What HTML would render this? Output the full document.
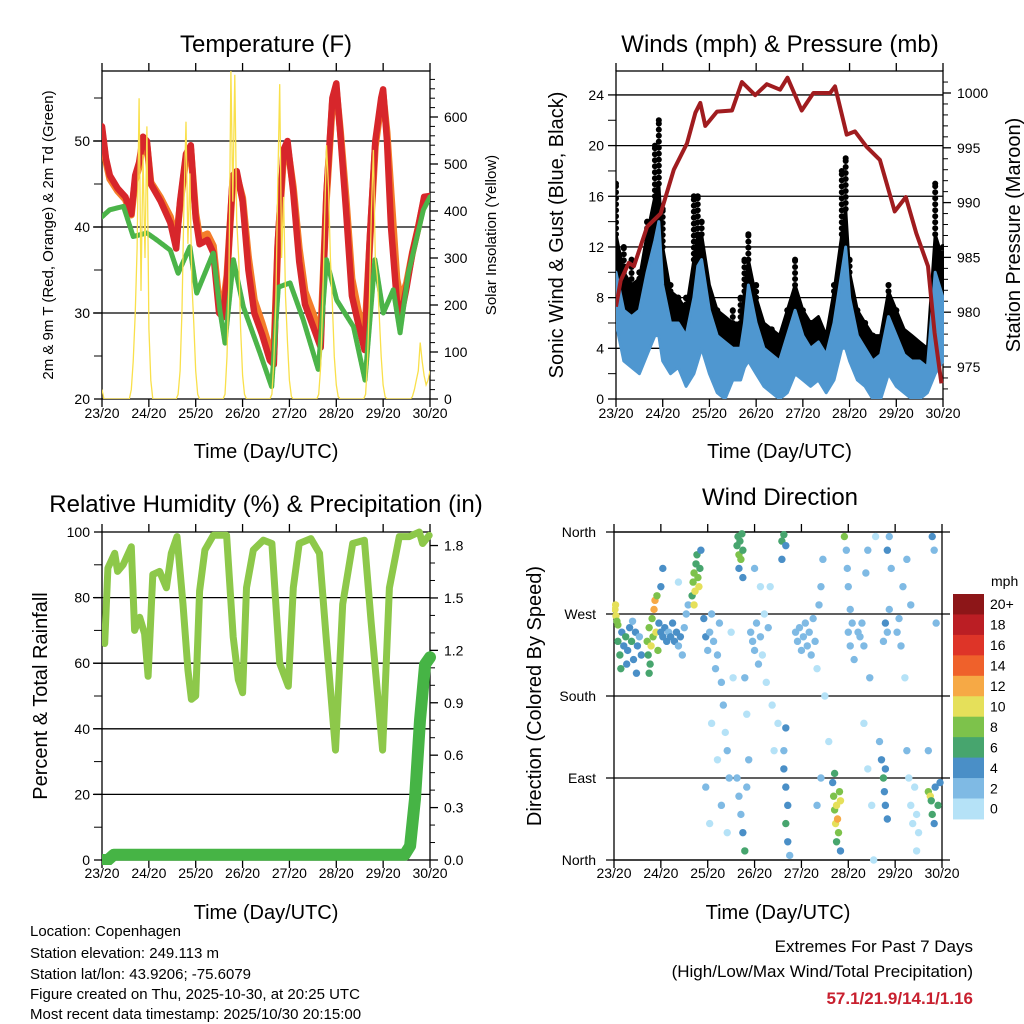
<!DOCTYPE html>
<html><head><meta charset="utf-8"><title>Weather station summary</title>
<style>
html,body{margin:0;padding:0;background:#fff;}
svg{display:block;font-family:"Liberation Sans",Arial,sans-serif;}
</style></head>
<body>
<svg id="chart" width="1024" height="1024" viewBox="0 0 1024 1024">
<defs>
<clipPath id="c1"><rect x="102" y="71" width="328" height="328"/></clipPath>
<clipPath id="c2"><rect x="616" y="71" width="328" height="328"/></clipPath>
<clipPath id="c3"><rect x="102" y="525" width="335" height="340"/></clipPath>
<clipPath id="c4"><rect x="612" y="526" width="336" height="340"/></clipPath>
</defs>
<text x="30" y="936" font-size="15">Location: Copenhagen</text>
<text x="30" y="958" font-size="15">Station elevation: 249.113 m</text>
<text x="30" y="979" font-size="15">Station lat/lon: 43.9206; -75.6079</text>
<text x="30" y="999" font-size="15">Figure created on Thu, 2025-10-30, at 20:25 UTC</text>
<text x="30" y="1019" font-size="15">Most recent data timestamp: 2025/10/30 20:15:00</text>
<text x="973" y="952" font-size="17" text-anchor="end">Extremes For Past 7 Days</text>
<text x="973" y="977" font-size="17" text-anchor="end">(High/Low/Max Wind/Total Precipitation)</text>
<text x="973" y="1004" font-size="17" font-weight="bold" fill="#c8202f" text-anchor="end">57.1/21.9/14.1/1.16</text>
</svg>
<script>
// ---------- data ----------
const dayLabels = ["23/20","24/20","25/20","26/20","27/20","28/20","29/20","30/20"];
const tempT = [0,2,4,8,12,15,17,19,21,23,25,30,35,38,40,43,45.5,48,50,54,57,60,62,64,67,69,72,75,78,82,86,88,90,93,95,98,101,104,108,112,115,118,120,122,125,128,131,134.5,137,140,143,144,146,148,151,153,156,159,162,165,168];
const tempRed = [51.7,48,46,44.5,43.5,41.5,46,47.5,50.5,50,45,43,40.5,37.5,43,48.5,49.5,41,38,38.5,37,30,29.5,34,46,46.5,43,35,30,27.5,24.5,24,38,49,50,44,36,31,28.5,26,44,55,56.7,51,42,32,29,25.7,38,50,55,56,50,40,31.5,29.5,33,37,40,43.5,43.6];
const tempOrange = [51.2,47.6,45.6,44.2,43.2,41.4,45.4,47,50,49.6,45.2,43.4,41.2,38.4,42.6,48,49,41.6,38.8,39.2,37.8,31.2,30.6,34.4,45.4,46,43.4,36.5,31.5,28.8,25.8,25.2,37.5,48.4,49.4,44.6,37.5,32.5,30,27.4,43.4,54.4,56,51.4,43.4,34,30.5,27,37.5,49.4,54.4,55.4,51,44,34,31.5,33.5,37,40,43.2,43.4];
const dewT = [0,4,11,16,23,28,35,39,45,48.5,57,60.4,63,67.3,72.4,81,86.9,90.3,96.3,103.1,110.8,115,120.2,128.8,134.7,139.8,144.1,149.2,152.7,156.9,164.6,168];
const dewG = [41.2,42,42.4,38.9,39.3,38.5,37.3,34.6,37.7,32.3,37,30.3,26.5,36.2,30.7,25.3,21.4,33,33.5,29.2,23.4,36.2,31.5,28.4,22.2,36.2,30,32.7,27.7,34.6,42,43.5];
const solar = [20,0,0,0,0,0,0,0,0,0,0,0,0,0,0,
 20,80,180,320,640,230,520,300,580,150,40,0,
 0,0,0,0,0,0,0,0,0,0,0,0,
 10,60,190,420,590,330,480,250,160,60,10,0,
 0,0,0,0,0,0,0,0,0,0,0,0,
 10,90,250,700,420,690,380,300,150,50,10,0,
 0,0,0,0,0,0,0,0,0,0,0,0,
 10,80,200,450,670,300,430,220,120,40,5,0,
 0,0,0,0,0,0,0,0,0,0,0,0,
 10,70,200,380,540,450,300,200,90,30,5,0,
 0,0,0,0,0,0,0,0,0,0,0,0,
 10,80,220,400,530,300,260,180,90,30,5,0,
 0,0,0,0,0,0,0,0,0,0,0,0,
 5,20,40,60,120,80,50,30,40,60];
const windT = [0,4,8,12,16,20,22,24,28,32,36,40,42,44,48,52,56,60,64,66,68,72,76,80,84,88,92,96,100,104,108,112,116,118,120,124,128,132,136,140,144,148,152,156,160,164,168];
const windHi = [10,7,6.5,7,10,12.5,14,9,6,6,5,8,10.5,11,7,5,4.5,4,4,6,9,6,4,3.5,3,5,7,5,4,4.5,3.5,6,10,12,8,5,4,3,3.5,6.5,5,3.5,3,3,2.5,10,8];
const windLo = [6,3,2.5,2,3.5,5,5,3,2,2.5,1,2,3,4,2,0.5,0,1.5,1.5,2.5,3,2,1,0.5,0,0.5,2,1.5,1,1.5,0.5,1.5,4,4,3,1.5,1,0,0,2,1,0.5,0,0,0.5,2,3];
const gustDense = [13,10,9,9.5,13,16,17,12,8.5,8,7,11,13,13,9,7,6.5,6,6,8.5,11,8,6,5.5,5,7,9,7,6,6.5,5,8.5,13,15,10,7,6,5,5,8.5,7,5.5,5,4.5,4,13,11];
const gust = [17,12,11,10,14,20,22,15,9,8,8,16,16,14,8,7,6,7,8,11,13,9,5,5.5,4,7,11,7,6,5.5,4.5,9,18,19,11,7,6,5,4,9,7,5,4,3.5,3,17,12];
const presT = [0,2.4,6.6,9.2,16,22.9,29.7,36.5,40.8,43.3,45.9,51.9,59.6,64.7,71.5,77.5,84.3,88.1,95.4,101.4,110,112.5,118.5,122.8,128.7,135.6,143.2,148.9,154.3,160.3,163.7,167.2];
const presV = [980.5,982.9,984.5,984.2,987.8,989,993,995.4,998.2,999.1,997,998.3,998.4,1001,999.8,1000.8,1000.3,1001.4,998.4,1000,1000,1000.6,996.2,996.5,995.1,993.9,989.2,990.5,987.2,984.2,978.1,973.5];
const rhT = [0,1.4,3,6.5,8,10.8,15,16.7,19.3,21.8,23.6,26,29.5,33,35.5,38.4,41.5,44,45.8,48,50,52.7,57,63.8,67.2,69.8,72,74,77.5,82.6,87,91,95.4,98,101,107,111.4,114.8,119.6,123.3,128.4,134.4,137.8,143.7,147.2,152.3,157.4,162.5,164.2,167.6];
const rhV = [67,66,89,93.5,88,90,95.5,70,74,69,56,87,88,83,93.5,98.6,78,58,49,50,82,94.5,99,99,68,55,51,83,94.5,97.5,96.5,60,53,83,96.5,98,93.5,68,33.5,78,96.5,97.5,73,33.5,83,98.6,98.6,100,96.5,99];
const precipT = [0,3,6,155,157.8,160.3,162.9,165.5,168];
const precipV = [0,0,0.03,0.03,0.08,0.35,0.8,1.12,1.16];
const dirT = [0.5,1,1.5,0.8,2, 2,3,4,5,6,7,8,9,10,11,12,13,14,3.5,6.5,9.5,11.5,
 17,17.5,18,18.5,19,19.5,20,20.5,21,21.5,22,22.5,18,
 23,24,25,26,27,28,29,30,31,32,33,34,36,37,35,38,24,25,33,
 40,40.5,41,41.5,42,42.5,43,43.5,44,41,44.5,
 46,47,48,49,50,51,52,53,54,55,56,57,58,59,60,50,53,55,58,61,47,49,
 63,63.5,64,64.5,65,65.5,66,64,66, 63,64,65,66,67,68,69,67,68,
 70,71,72,73,74,75,76,77,78,79,80,81,75,72,84,82,
 86,87,88,86,87,88,89,88,89,90,87,88,
 93,94,95,96,97,98,99,100,101,102,103,104,105,106,107,108,110,106,104,
 112,112.5,113,113.5,114,114.5,115,115.5,114,116,113,116,
 118,119,119.5,120,121,120,121,122,123,
 125,126,127,128,129,130,131,130,132,133,134,128,
 136,137,138,138.5,139,140,138,139,140,141,140,141,142,139,
 145,146,147,148,149,150,151,152,153,154,155,156,150,152,155,
 161,162,162.5,163,164,164.5,163,164,161,165,166,167];
const dirD = [275,268,262,280,258, 240,225,250,235,245,230,255,240,220,250,235,245,225,210,215,262,205,
 240,225,255,215,235,265,245,275,285,250,290,230,205,
 260,250,245,255,240,250,245,260,240,250,235,245,255,270,225,280,300,320,305,
 290,305,315,295,325,335,310,300,320,280,340,
 265,245,230,250,270,240,210,225,260,195,170,140,120,90,250,150,110,60,30,200,80,40,
 345,355,335,350,330,358,340,320,310, 90,70,50,30,10,80,110,200,160,
 250,240,230,260,215,245,225,270,195,255,300,170,300,320,150,120,
 350,357,345,330,100,80,60,40,20,5,120,145,
 250,240,255,230,245,260,235,250,225,265,240,210,280,300,330,180,130,90,60,
 85,70,55,40,60,45,30,75,20,10,95,65,
 355,340,320,300,275,250,235,260,220,
 250,245,260,235,315,340,200,100,60,0,355,150,
 130,110,90,75,60,45,240,260,250,275,340,355,320,100,
 250,265,235,300,200,120,90,60,40,80,50,30,330,280,10,
 75,70,65,50,40,80,355,340,120,260,60,85];
const dirS = [10,10,9,11,8, 6,7,5,4,6,5,4,6,5,4,5,3,4,6,5,3,4,
 8,7,9,6,10,9,8,12,13,11,9,8,7,
 5,4,4,5,4,3,4,4,5,4,3,4,3,3,2,3,4,4,1,
 7,8,9,10,7,6,8,10,7,11,5,
 4,4,3,3,2,2,3,2,2,3,2,1,2,2,1,1,1,2,1,1,2,1,
 7,6,8,7,9,6,7,5,4, 2,3,3,4,6,3,2,2,1,
 2,2,3,2,2,2,1,1,1,2,1,1,1,2,1,1,
 6,7,5,4,4,5,5,6,4,3,3,4,
 2,3,2,2,3,2,2,3,2,2,2,1,3,2,2,1,1,2,3,
 5,8,9,10,11,12,9,8,6,4,7,10,
 8,3,3,3,3,3,2,3,2,
 2,3,2,2,2,2,2,1,1,1,1,1,
 3,4,6,5,4,4,3,4,3,2,4,3,3,5,
 3,2,3,2,1,2,1,1,1,1,0,1,2,2,1,
 8,10,7,6,4,4,4,3,2,2,6,4];
const speedColors = ["#b5e2f7","#7fbae4","#4a8fc7","#47a56e","#7dc24b","#e5e05a","#f6a945","#ef612b","#de3428","#bb1e24","#8d1618"];
const speedLabels = ["0","2","4","6","8","10","12","14","16","18","20+"];

// ---------- helpers ----------
const NS = 'http://www.w3.org/2000/svg';
const svg = document.getElementById('chart');
function mk(tag, attrs, parent){
  const e = document.createElementNS(NS, tag);
  for (const k in attrs) e.setAttribute(k, attrs[k]);
  (parent || svg).appendChild(e);
  return e;
}
function txt(x, y, s, size, anchor, parent){
  const e = mk('text', {x:x, y:y, 'font-size':size, 'text-anchor':anchor || 'middle'}, parent);
  e.textContent = s;
  return e;
}
function rtxt(cx, cy, s, size, parent){
  const e = mk('text', {x:0, y:0, 'font-size':size, 'text-anchor':'middle', transform:'translate(' + cx + ',' + cy + ') rotate(-90)'}, parent);
  e.textContent = s;
  return e;
}
function line(x1,y1,x2,y2,w,parent,col){
  return mk('line', {x1:x1,y1:y1,x2:x2,y2:y2,stroke:col||'#000','stroke-width':w||1}, parent);
}
function xs(p, t){ return p.x0 + t/168*(p.x1 - p.x0); }

function frame(p, name, xLabelY, xTitleY){
  const g = mk('g', {});
  
  
  const box = mk('rect', {x:p.x0, y:p.y0, width:p.x1-p.x0, height:p.y1-p.y0, fill:'none', stroke:'#000', 'stroke-width':1.3}, g);
  
  
  for (let i = 0; i < dayLabels.length; i++){
    const x = xs(p, i*24);
    line(x, p.y1, x, p.y1+8, 1.3, g);
    line(x, p.y0-8, x, p.y0, 1.3, g);
    const lb = txt(x, xLabelY, dayLabels[i], 14, 'middle', g);
    
    
  }
  const xt = txt((p.x0+p.x1)/2, xTitleY, 'Time (Day/UTC)', 20, 'middle', g);
  
  
  return g;
}
function yTicks(p, g, vals, yf, labels, side, grid, gridFrom){
  for (let i = 0; i < vals.length; i++){
    const y = yf(vals[i]);
    if (side === 'left'){
      line(p.x0-8, y, p.x0, y, 1.3, g);
      if (labels[i] !== ''){
        const t = txt(p.x0-12, y+5, labels[i], 14, 'end', g);
        
        
      }
      if (grid && grid[i]) line(gridFrom, y, p.x1, y, 1.3, g);
    } else {
      line(p.x1, y, p.x1+8, y, 1.3, g);
      if (labels[i] !== ''){
        const t = txt(p.x1+14, y+5, labels[i], 14, 'start', g);
        
        
      }
    }
  }
}
function minor(p, g, vals, yf, side){
  for (const v of vals){
    const y = yf(v);
    if (side === 'left') line(p.x0-8, y, p.x0, y, 1, g);
    else line(p.x1, y, p.x1+5, y, 1, g);
  }
}
function pts(p, T, V, yf){
  return T.map((t,i) => xs(p,t).toFixed(1) + ',' + yf(V[i]).toFixed(1)).join(' ');
}

// ---------- Panel 1: temperature ----------
const P1 = {x0:102, x1:430, y0:71, y1:399};
const tY = v => 399 - (v-20)*8.6;
const sY = v => 399 - v*0.47;
const g1 = frame(P1, 'temperature', 418, 458);
yTicks(P1, g1, [20,30,40,50], tY, ['20','30','40','50'], 'left', [0,1,1,1], 93);
minor(P1, g1, [25,35,45,55], tY, 'left');
yTicks(P1, g1, [0,100,200,300,400,500,600], sY, ['0','100','200','300','400','500','600'], 'right');
minor(P1, g1, [20,40,60,80,120,140,160,180,220,240,260,280,320,340,360,380,420,440,460,480,520,540,560,580,620,640,660,680], sY, 'right');
const t1 = txt(266, 52, 'Temperature (F)', 24, 'middle');


const yl1 = rtxt(53, 235, '2m & 9m T (Red, Orange) & 2m Td (Green)', 15);


const yr1 = rtxt(496, 235, 'Solar Insolation (Yellow)', 15);


const c1 = mk('g', {'clip-path':'url(#c1)'});
const orangeLine = mk('polyline', {points:pts(P1,tempT,tempOrange,tY), fill:'none', stroke:'#f47d2a', 'stroke-width':7, 'stroke-linejoin':'round', 'stroke-linecap':'round'}, c1);


const redLine = mk('polyline', {points:pts(P1,tempT,tempRed,tY), fill:'none', stroke:'#d7262b', 'stroke-width':6.5, 'stroke-linejoin':'round', 'stroke-linecap':'round'}, c1);


const greenLine = mk('polyline', {points:pts(P1,dewT,dewG,tY), fill:'none', stroke:'#4bb449', 'stroke-width':5, 'stroke-linejoin':'round', 'stroke-linecap':'round', 'stroke-dasharray':'3 1'}, c1);


const solarLine = mk('polyline', {points:solar.map((v,i)=>xs(P1,i).toFixed(1)+','+sY(v).toFixed(1)).join(' '), fill:'none', stroke:'#f9e04b', 'stroke-width':1.3}, c1);



// ---------- Panel 2: wind & pressure ----------
const P2 = {x0:616, x1:943, y0:71, y1:399};
const wY = v => 399 - v*12.67;
const pY = v => 367 - (v-975)*10.96;
const g2 = frame(P2, 'wind', 418, 458);
yTicks(P2, g2, [0,4,8,12,16,20,24], wY, ['0','4','8','12','16','20','24'], 'left', [0,1,1,1,1,1,1], 616);
minor(P2, g2, [2,6,10,14,18,22], wY, 'left');
const pres = [975,980,985,990,995,1000];
yTicks(P2, g2, pres, pY, ['975','980','985','990','995','1000'], 'right');
const pMinor = [];
for (let v = 973; v <= 1001; v++) if (v % 5) pMinor.push(v);
minor(P2, g2, pMinor, pY, 'right');
const t2 = txt(780, 52, 'Winds (mph) & Pressure (mb)', 24, 'middle');


const yl2 = rtxt(563, 235, 'Sonic Wind & Gust (Blue, Black)', 20);


const yr2 = rtxt(1020, 235, 'Station Pressure (Maroon)', 20);


const c2 = mk('g', {'clip-path':'url(#c2)'});
const gustPoly = pts(P2, windT, gustDense, wY) + ' ' + pts(P2, windT.slice().reverse(), windHi.slice().reverse(), wY);
const gustArea = mk('polygon', {points:gustPoly, fill:'#000', stroke:'#000', 'stroke-width':3, 'stroke-linejoin':'round'}, c2);


windT.forEach((t,i) => {
  const x = xs(P2,t);
  const yTop = wY(gust[i]), yBot = wY(gustDense[i]);
  for (let y = yBot; y >= yTop - 0.1; y -= 6){
    const d = mk('circle', {cx:x, cy:y, r:3, fill:'#000'}, c2);
    
    
  }
  const d2 = mk('circle', {cx:x, cy:yTop, r:3, fill:'#000'}, c2);
  
  
});
const bandPoly = pts(P2, windT, windHi, wY) + ' ' + pts(P2, windT.slice().reverse(), windLo.slice().reverse(), wY);
const band = mk('polygon', {points:bandPoly, fill:'#4f97d0', stroke:'#4f97d0', 'stroke-width':3, 'stroke-linejoin':'round'}, c2);


const presLine = mk('polyline', {points:pts(P2,presT,presV,pY), fill:'none', stroke:'#a01c1f', 'stroke-width':4, 'stroke-linejoin':'round'}, c2);



// ---------- Panel 3: RH & precip ----------
const P3 = {x0:102, x1:430, y0:532, y1:860};
const hY = v => 860 - v*3.28;
const g3 = frame(P3, 'humidity', 878, 919);
yTicks(P3, g3, [0,20,40,60,80,100], hY, ['0','20','40','60','80','100'], 'left', [0,1,1,1,1,0], 93);
minor(P3, g3, [10,30,50,70,90], hY, 'left');
yTicks(P3, g3, [0,0.3,0.6,0.9,1.2,1.5,1.8], v => 860 - v*174.7, ['0.0','0.3','0.6','0.9','1.2','1.5','1.8'], 'right');
minor(P3, g3, [0.1,0.2,0.4,0.5,0.7,0.8,1.0,1.1,1.3,1.4,1.6,1.7], v => 860 - v*174.7, 'right');
const t3 = txt(266, 512, 'Relative Humidity (%) & Precipitation (in)', 24, 'middle');


const yl3 = rtxt(47, 696, 'Percent & Total Rainfall', 20);


const c3 = mk('g', {'clip-path':'url(#c3)'});
const rhLine = mk('polyline', {points:pts(P3,rhT,rhV,hY), fill:'none', stroke:'#8dc84a', 'stroke-width':7, 'stroke-linejoin':'round', 'stroke-linecap':'round'}, c3);


const prLine = mk('polyline', {points:pts(P3,precipT,precipV,v => 860 - v*174.7), fill:'none', stroke:'#46b445', 'stroke-width':12, 'stroke-linejoin':'round', 'stroke-linecap':'round'}, c3);



// ---------- Panel 4: wind direction ----------
const P4 = {x0:614, x1:942, y0:532, y1:860};
const dY = v => 860 - v/360*328;
const g4 = frame(P4, 'direction', 878, 919);
const dirTicks = [0,90,180,270,360];
const dirNames = ['North','East','South','West','North'];
dirTicks.forEach((v,i) => {
  const y = dY(v);
  line(606, y, 950, y, 1.3, g4);
  const t = txt(596, y+5, dirNames[i], 14, 'end', g4);
  
  
});
const t4 = txt(780, 505, 'Wind Direction', 24, 'middle');


const yl4 = rtxt(541, 696, 'Direction (Colored By Speed)', 20);


const c4 = mk('g', {'clip-path':'url(#c4)'});
dirT.forEach((t,i) => {
  const idx = Math.min(10, Math.floor(dirS[i]/2));
  const c = mk('circle', {cx:xs(P4,t), cy:dY(dirD[i]), r:3.7, fill:speedColors[idx]}, c4);
  
  
});
// colorbar
const cb = mk('g', {});


const cbTop = 594, cbH = 20.45;
for (let k = 0; k < 11; k++){
  const idx = 10 - k;
  const r = mk('rect', {x:953, y:cbTop + k*cbH, width:31, height:cbH+0.5, fill:speedColors[idx]}, cb);
  
  
  const l = txt(990, cbTop + k*cbH + cbH/2 + 5, speedLabels[idx], 14, 'start', cb);
  
  
}
const mph = txt(991, 586, 'mph', 14, 'start', cb);


</script>
</body></html>
